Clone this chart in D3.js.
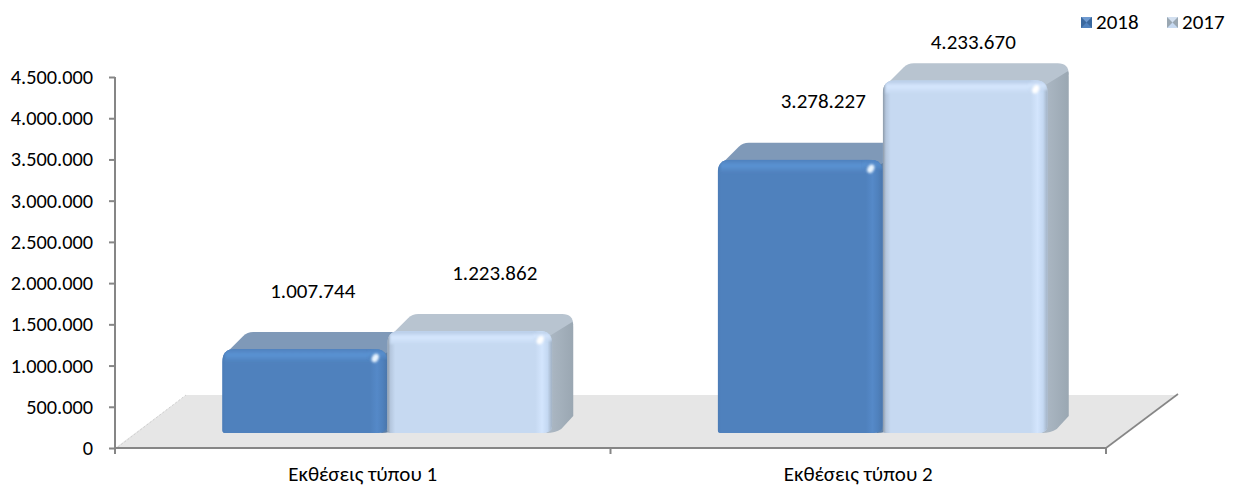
<!DOCTYPE html>
<html><head><meta charset="utf-8">
<script src="https://cdn.jsdelivr.net/npm/d3@7"></script>
<style>
html,body{margin:0;padding:0;background:#fff}
svg{display:block}
text{font-family:Carlito,Lato,"Open Sans","Noto Sans",sans-serif;fill:#000;font-size:21px}
</style></head><body>
<svg id="c" width="1235" height="486"></svg>
<script>
const categories = ["Εκθέσεις τύπου 1", "Εκθέσεις τύπου 2"];
const seriesNames = ["2018", "2017"];
const values2018 = [1007744, 3278227];
const values2017 = [1223862, 4233670];
const tickValues = [0,500000,1000000,1500000,2000000,2500000,3000000,3500000,4000000,4500000];

const palette = {
  "2018": {front:"#4f81bd", top:"#7f99b8", side:"#6a86a8", hi:"#5b93d3", band:"#5589c8", edge:"#4c7cb6", spec:"#e8f4ff"},
  "2017": {front:"#c6d9f1", top:"#b8c4d0", side:"#9aa7b2", hi:"#d6e7fe", band:"#d3e5fd", edge:"#8b98a6", spec:"#ffffff"}
};
const series = [
  {name:seriesNames[0], values:values2018},
  {name:seriesNames[1], values:values2017}
];
const fmt = v => d3.format(",")(v).replace(/,/g,".");

const svg = d3.select("#c");
const defs = svg.append("defs");
const blur = defs.append("filter").attr("id","blur").attr("x","-50%").attr("y","-50%").attr("width","200%").attr("height","200%");
blur.append("feGaussianBlur").attr("stdDeviation",0.9);
const blurS = defs.append("filter").attr("id","soft").attr("x","-20%").attr("y","-30%").attr("width","140%").attr("height","160%");
blurS.append("feGaussianBlur").attr("stdDeviation",0.8);

function grad(id,x2,y2,stops){
  const g = defs.append("linearGradient").attr("id",id).attr("x1",0).attr("y1",0).attr("x2",x2).attr("y2",y2);
  stops.forEach(s=>g.append("stop").attr("offset",s[0]).attr("stop-color",s[1]));
}
seriesNames.forEach(n=>{
  const p = palette[n];
  grad("L"+n,1,0,[[0,p.edge],[0.4,n==="2018"?"#4f81bd":"#b4c6dd"],[1,p.front]]);
  grad("R"+n,1,0,[[0,p.front],[0.4,p.band],[0.72,n==="2018"?"#4f81bd":"#c4d8f2"],[1,n==="2018"?"#4a76ab":"#a0b0c2"]]);
  grad("T"+n,0,1,[[0,n==="2018"?"#4f81bd":"#b2c7e2"],[0.45,p.hi],[1,p.front]]);
  grad("S"+n,1,0,[[0,n==="2018"?"#5b7ea6":"#aebac6"],[1,p.side]]);
});

// plot geometry
const axisX0 = 115, axisX1 = 1106, axisY0 = 448, axisY1 = 77;
const floorDx = 71, floorDy = 53;
const barBase = 433, barTopAtMax = 58;
const depthX = 21, depthY = 17;
const groupShift = 24.5, groupWidth = 330;

const y = d3.scaleLinear().domain([0,4500000]).range([axisY0,axisY1]);
const yBar = d3.scaleLinear().domain([0,4500000]).range([barBase,barTopAtMax]);
const x = d3.scaleBand().domain(categories).range([axisX0,axisX1]);
const xIn = d3.scaleBand().domain(seriesNames).range([0,groupWidth]);

// floor
const floor = svg.append("g");
floor.append("polygon").attr("fill","#e6e6e6")
  .attr("points",[[axisX0,axisY0],[axisX1,axisY0],[axisX1+floorDx,axisY0-floorDy],[axisX0+floorDx,axisY0-floorDy]].join(" "));
floor.append("line").attr("x1",axisX1).attr("y1",axisY0).attr("x2",axisX1+floorDx+1).attr("y2",axisY0-floorDy-1)
  .attr("stroke","#868686").attr("stroke-width",1.6);
floor.append("line").attr("x1",axisX0+3).attr("y1",axisY0-1).attr("x2",axisX0+floorDx).attr("y2",axisY0-floorDy)
  .attr("stroke","#cfcfcf").attr("stroke-width",1).attr("stroke-dasharray","2 2");

// axes
const gy = svg.append("g").attr("transform",`translate(${axisX0},0)`)
  .call(d3.axisLeft(y).tickValues(tickValues).tickFormat(fmt).tickSize(6).tickPadding(16));
gy.selectAll("text").attr("dy","0.32em").style("font-size","20.3px");
const gx = svg.append("g").attr("transform",`translate(0,${axisY0})`)
  .call(d3.axisBottom(x).tickSize(0).tickPadding(0));
gx.selectAll(".tick line").remove();
gx.selectAll("text").attr("dy",0).attr("y",33);
const xBoundaries = [axisX0, axisX0+x.bandwidth(), axisX1];
gx.selectAll("line.b").data(xBoundaries).join("line").attr("class","b")
  .attr("x1",d=>d).attr("x2",d=>d).attr("y1",0).attr("y2",6);
[gy,gx].forEach(g=>{
  g.selectAll("line").attr("stroke","#868686").attr("stroke-width",2);
  g.selectAll(".domain").attr("stroke","#868686").attr("stroke-width",2);
});
gy.select(".domain").attr("d",`M0,${axisY1}V${axisY0+6}`);
gx.select(".domain").attr("d",`M${axisX0},0H${axisX1}`);

// bars
const barsG = svg.append("g");
let clipN = 0;
function drawBar(g,name,bx,w,top,base){
  const p = palette[name], r = 13, bev = 13;
  const right = bx+w;
  g.append("path").attr("fill",p.top).attr("d",
    `M${bx+3},${top+5} L${bx+depthX},${top-depthY+4} Q${bx+depthX+4},${top-depthY} ${bx+depthX+10},${top-depthY}
     H${right+depthX-11} Q${right+depthX},${top-depthY} ${right+depthX},${top-depthY+11}
     L${right},${top+12} Z`);
  g.append("path").attr("fill",`url(#S${name})`).attr("d",
    `M${right-6},${top+7} L${right+depthX-1},${top-depthY+8} Q${right+depthX},${top-depthY+8} ${right+depthX},${top-depthY+14}
     V${base-depthY} L${right+9},${base-4} Q${right+3},${base} ${right-6},${base} Z`);
  const id = "clip"+(clipN++);
  defs.append("clipPath").attr("id",id).append("path").attr("d",
    `M${bx},${base-3} V${top+r} Q${bx},${top} ${bx+r},${top} H${right-r} Q${right},${top} ${right},${top+r}
     V${base-8} Q${right},${base} ${right-10},${base} H${bx+3} Q${bx},${base} ${bx},${base-3} Z`);
  const f = g.append("g").attr("clip-path",`url(#${id})`);
  f.append("rect").attr("x",bx).attr("y",top).attr("width",w).attr("height",base-top).attr("fill",p.front);
  f.append("rect").attr("x",bx).attr("y",top).attr("width",8).attr("height",base-top).attr("fill",`url(#L${name})`);
  f.append("rect").attr("x",right-bev-4).attr("y",top).attr("width",bev+4).attr("height",base-top).attr("fill",`url(#R${name})`);
  f.append("rect").attr("x",bx+3).attr("y",top).attr("width",w-bev-6).attr("height",bev).attr("fill",`url(#T${name})`).attr("filter","url(#soft)");
  f.append("rect").attr("x",right-bev-6).attr("y",top).attr("width",bev+6).attr("height",bev-3).attr("fill",`url(#T${name})`).attr("opacity",0.8).attr("filter","url(#soft)");
  f.append("ellipse").attr("cx",right-bev+1).attr("cy",top+9).attr("rx",3.2).attr("ry",4.5)
    .attr("transform",`rotate(30 ${right-bev+1} ${top+9})`).attr("fill",p.spec).attr("filter","url(#blur)");
}
categories.forEach((c,ci)=>{
  series.forEach(s=>{
    const bx = x(c)+groupShift+(x.bandwidth()-groupWidth)/2+xIn(s.name);
    drawBar(barsG.append("g"),s.name,bx,xIn.bandwidth(),yBar(s.values[ci]),barBase);
  });
});

// data labels: hand-placed in the reference, so each carries its own offset from the bar
const labelShift = {
  "2018":[[8,-51],[23,-52]],
  "2017":[[25,-51],[8,-31]]
};
const labelsG = svg.append("g").attr("text-anchor","middle");
categories.forEach((c,ci)=>{
  series.forEach(s=>{
    const bx = x(c)+groupShift+(x.bandwidth()-groupWidth)/2+xIn(s.name);
    const sh = labelShift[s.name][ci];
    labelsG.append("text")
      .attr("x",bx+xIn.bandwidth()/2+sh[0])
      .attr("y",yBar(s.values[ci])+sh[1])
      .text(fmt(s.values[ci]));
  });
});

// legend
const legendX = [1081,1167];
const lg = svg.append("g");
series.forEach((s,i)=>{
  const lx = legendX[i], ly = 17, sz = 11, cx = lx+sz/2, cy = ly+sz/2;
  const g = lg.append("g");
  g.append("rect").attr("x",lx).attr("y",ly).attr("width",sz).attr("height",sz).attr("fill",s.name==="2018"?"#4f81bd":"#c6d9f1");
  g.append("polygon").attr("points",[[lx,ly],[lx+sz,ly],[cx,cy]].join(" ")).attr("fill",s.name==="2018"?"#6f9ad0":"#d3e0f0");
  g.append("polygon").attr("points",[[lx+sz,ly],[lx+sz,ly+sz],[cx,cy]].join(" ")).attr("fill",s.name==="2018"?"#3a689e":"#9aa7b2");
  g.append("polygon").attr("points",[[lx,ly],[lx,ly+sz],[cx,cy]].join(" ")).attr("fill",s.name==="2018"?"#3a689e":"#9aa7b2");
  lg.append("text").attr("x",lx+15).attr("y",ly+12).text(s.name);
});
</script>
</body></html>
